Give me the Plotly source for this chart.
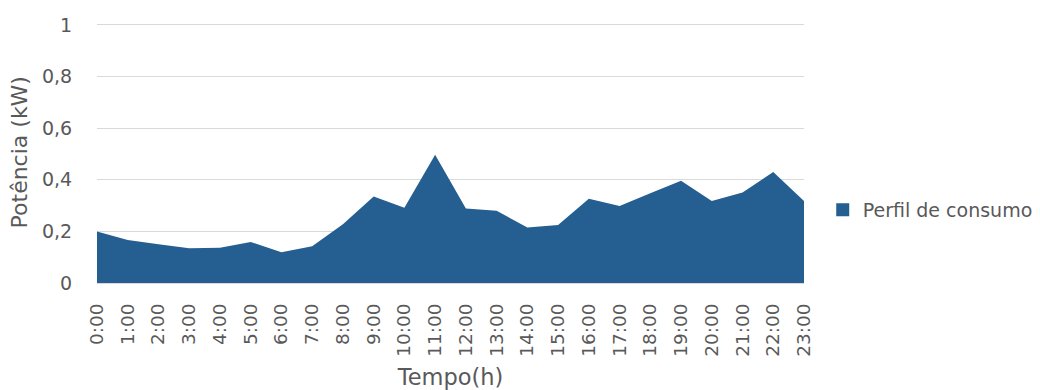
import plotly.graph_objects as go

# Hourly consumption profile (kW)
hours = list(range(24))
hour_labels = [f"{h}:00" for h in hours]
power_kw = [0.200, 0.167, 0.150, 0.135, 0.137, 0.159, 0.119, 0.142,
            0.228, 0.335, 0.292, 0.497, 0.289, 0.280, 0.215, 0.225,
            0.327, 0.298, 0.348, 0.396, 0.318, 0.351, 0.430, 0.318]
series_name = "Perfil de consumo"
y_ticks = [0, 0.2, 0.4, 0.6, 0.8, 1.0]

fill_color = "#255E91"
text_color = "#595959"
grid_color = "#D9D9D9"
font_family = "DejaVu Sans"

fig = go.Figure()

# Filled area down to zero
fig.add_trace(go.Scatter(
    x=hours, y=power_kw,
    mode="lines",
    line=dict(width=0, color=fill_color),
    fill="tozeroy",
    fillcolor=fill_color,
    showlegend=False,
    hoverinfo="x+y",
))

# Legend entry with a square swatch
fig.add_trace(go.Scatter(
    x=[None], y=[None],
    mode="markers",
    marker=dict(symbol="square", size=13, color=fill_color),
    name=series_name,
))

fig.update_layout(
    width=1040, height=390,
    margin=dict(l=97, r=236, t=22, b=107, autoexpand=False),
    paper_bgcolor="white",
    plot_bgcolor="white",
    separators=", ",
    font=dict(family=font_family, color=text_color, size=18),
    legend=dict(
        x=1.0265, xanchor="left",
        y=0.28, yanchor="middle",
        font=dict(size=19, color=text_color),
        bgcolor="rgba(0,0,0,0)",
        borderwidth=0,
    ),
    annotations=[dict(
        text="Potência (kW)",
        textangle=-90,
        xref="paper", yref="paper",
        x=-0.109, y=0.5,
        xanchor="center", yanchor="middle",
        showarrow=False,
        font=dict(size=22, color=text_color),
    )],
)

fig.update_xaxes(
    range=[0, 23],
    tickmode="array",
    tickvals=hours,
    ticktext=hour_labels,
    tickangle=-90,
    tickfont=dict(size=18.5, color=text_color),
    ticks="outside",
    ticklen=12,
    tickcolor="rgba(0,0,0,0)",
    showgrid=False,
    showline=True,
    linecolor=grid_color,
    linewidth=1,
    zeroline=False,
    automargin=False,
    title=dict(text="Tempo(h)", font=dict(size=22.5, color=text_color)),
)

fig.update_yaxes(
    range=[0, 1.0116],
    tickmode="array",
    tickvals=y_ticks,
    tickfont=dict(size=19, color=text_color),
    ticks="outside",
    ticklen=20,
    tickcolor="rgba(0,0,0,0)",
    showgrid=True,
    gridcolor=grid_color,
    gridwidth=1,
    zeroline=False,
    showline=False,
    automargin=False,
)

fig.write_html("out.html")
